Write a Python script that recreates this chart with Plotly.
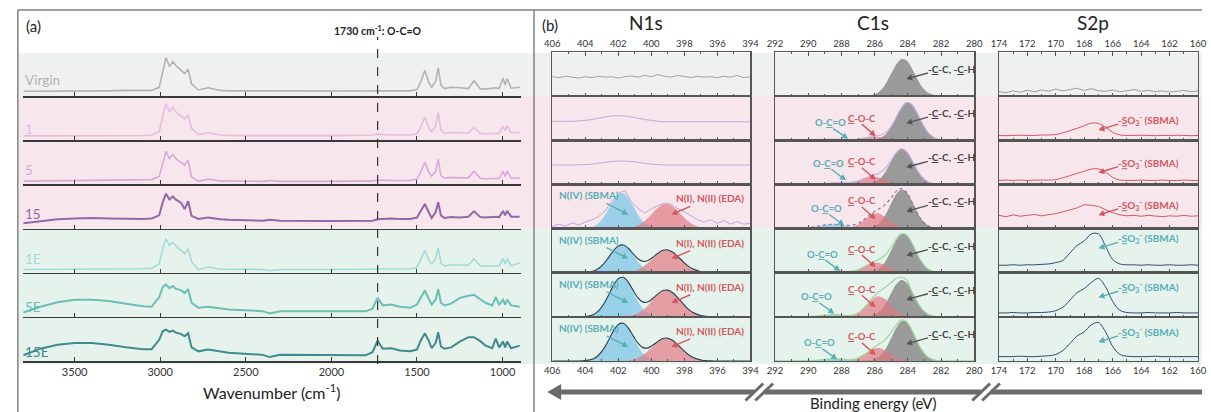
import math
import plotly.graph_objects as go

W, H = 1211, 412

# ---------------- data: FTIR (panel a) ----------------
SAMPLES = ["Virgin", "1", "5", "15", "1E", "5E", "15E"]
FTIR_TICKS = [3500, 3000, 2500, 2000, 1500, 1000]
MARK_WN = 1730

WN = [3800, 3700, 3600, 3500, 3400, 3300, 3200, 3100, 3050, 3006,
      2985, 2966, 2946, 2927, 2910, 2892, 2877, 2857, 2837, 2817,
      2777, 2720, 2650, 2600, 2400, 2360, 2300, 2000, 1800, 1760,
      1730, 1700, 1650, 1600, 1540, 1500, 1480, 1454, 1430, 1414,
      1390, 1376, 1360, 1340, 1300, 1250, 1200, 1167, 1130, 1100,
      1060, 1040, 1020, 997, 985, 973, 950, 900]

FTIR_VIRGIN = [0.11, 0.11, 0.115, 0.115, 0.12, 0.12, 0.13, 0.125, 0.13, 0.2,
               0.55, 0.875, 0.67, 0.78, 0.7, 0.625, 0.585, 0.51, 0.61, 0.28,
               0.14, 0.19, 0.13, 0.12, 0.115, 0.12, 0.12, 0.115, 0.115, 0.115,
               0.12, 0.125, 0.12, 0.12, 0.12, 0.15, 0.3, 0.585, 0.3, 0.2,
               0.35, 0.64, 0.25, 0.17, 0.2, 0.19, 0.17, 0.35, 0.17, 0.16,
               0.18, 0.19, 0.17, 0.41, 0.25, 0.4, 0.18, 0.2]
FTIR_1 = [0.1, 0.1, 0.105, 0.105, 0.11, 0.11, 0.11, 0.11, 0.12, 0.2,
          0.55, 0.83, 0.64, 0.74, 0.66, 0.58, 0.55, 0.48, 0.58, 0.27,
          0.13, 0.17, 0.12, 0.11, 0.105, 0.11, 0.105, 0.105, 0.11, 0.12,
          0.14, 0.13, 0.12, 0.12, 0.12, 0.15, 0.28, 0.52, 0.28, 0.19,
          0.33, 0.62, 0.23, 0.16, 0.18, 0.17, 0.16, 0.29, 0.16, 0.15,
          0.16, 0.17, 0.16, 0.32, 0.22, 0.33, 0.17, 0.18]
FTIR_5 = [0.075, 0.08, 0.085, 0.09, 0.09, 0.095, 0.1, 0.1, 0.11, 0.18,
          0.5, 0.75, 0.59, 0.68, 0.6, 0.53, 0.5, 0.44, 0.55, 0.17,
          0.07, 0.12, 0.08, 0.075, 0.07, 0.09, 0.07, 0.07, 0.075, 0.08,
          0.1, 0.09, 0.09, 0.09, 0.09, 0.12, 0.26, 0.51, 0.27, 0.19,
          0.3, 0.57, 0.2, 0.14, 0.16, 0.15, 0.15, 0.3, 0.14, 0.13,
          0.14, 0.15, 0.14, 0.3, 0.18, 0.3, 0.14, 0.15]
FTIR_15 = [0.12, 0.17, 0.21, 0.23, 0.24, 0.23, 0.22, 0.22, 0.23, 0.3,
           0.6, 0.79, 0.66, 0.73, 0.66, 0.62, 0.58, 0.44, 0.62, 0.29,
           0.22, 0.25, 0.21, 0.2, 0.18, 0.2, 0.18, 0.17, 0.17, 0.18,
           0.21, 0.22, 0.23, 0.22, 0.22, 0.25, 0.38, 0.56, 0.36, 0.24,
           0.38, 0.6, 0.3, 0.24, 0.26, 0.25, 0.27, 0.39, 0.26, 0.25,
           0.26, 0.27, 0.26, 0.4, 0.3, 0.4, 0.27, 0.27]
FTIR_1E = [0.075, 0.075, 0.08, 0.08, 0.08, 0.085, 0.085, 0.09, 0.1, 0.2,
           0.55, 0.77, 0.62, 0.69, 0.62, 0.54, 0.51, 0.43, 0.54, 0.25,
           0.07, 0.13, 0.08, 0.08, 0.075, 0.05, 0.075, 0.075, 0.075, 0.08,
           0.09, 0.085, 0.085, 0.085, 0.09, 0.12, 0.28, 0.51, 0.28, 0.2,
           0.32, 0.57, 0.22, 0.16, 0.18, 0.17, 0.17, 0.32, 0.16, 0.15,
           0.16, 0.17, 0.16, 0.32, 0.2, 0.32, 0.16, 0.22]
FTIR_5E = [0.1, 0.23, 0.33, 0.39, 0.39, 0.36, 0.3, 0.24, 0.23, 0.45,
           0.68, 0.73, 0.65, 0.7, 0.64, 0.61, 0.6, 0.54, 0.63, 0.32,
           0.21, 0.23, 0.19, 0.17, 0.13, 0.08, 0.13, 0.13, 0.126, 0.185,
           0.43, 0.26, 0.28, 0.23, 0.21, 0.28, 0.42, 0.6, 0.4, 0.28,
           0.4, 0.63, 0.32, 0.26, 0.3, 0.43, 0.48, 0.5, 0.4, 0.32,
           0.26, 0.45, 0.28, 0.39, 0.28, 0.39, 0.26, 0.23]
FTIR_15E = [0.13, 0.28, 0.37, 0.41, 0.41, 0.37, 0.31, 0.27, 0.27, 0.48,
            0.68, 0.71, 0.66, 0.69, 0.65, 0.63, 0.61, 0.56, 0.63, 0.31,
            0.22, 0.26, 0.21, 0.19, 0.14, 0.09, 0.14, 0.13, 0.13, 0.2,
            0.46, 0.28, 0.29, 0.24, 0.22, 0.26, 0.45, 0.63, 0.45, 0.29,
            0.42, 0.65, 0.33, 0.28, 0.31, 0.44, 0.54, 0.54, 0.45, 0.35,
            0.29, 0.51, 0.31, 0.44, 0.31, 0.44, 0.29, 0.35]
FTIR_SERIES = [FTIR_VIRGIN, FTIR_1, FTIR_5, FTIR_15, FTIR_1E, FTIR_5E, FTIR_15E]

# ---------------- data: XPS N1s ----------------
N1S_E = [406, 405, 404.5, 404, 403.5, 403.2, 402.9, 402.6, 402.3, 402.0,
         401.7, 401.4, 401.1, 400.8, 400.5, 400.2, 399.9, 399.6, 399.3, 399.0,
         398.7, 398.4, 398.1, 397.8, 397.5, 397.0, 396.5, 396.0, 395.0, 394.0]
N1S_E_RAW = [406.0, 405.6, 405.2, 404.8, 404.4, 404.0, 403.6, 403.2, 402.8, 402.4,
             402.0, 401.6, 401.2, 400.8, 400.4, 400.0, 399.6, 399.2, 398.8, 398.4,
             398.0, 397.6, 397.2, 396.8, 396.4, 396.0, 395.6, 395.2, 394.8, 394.4, 394.0]
N1S_RAW_VIRGIN = [0.44, 0.42, 0.45, 0.43, 0.41, 0.44, 0.42, 0.45, 0.43, 0.44,
                  0.41, 0.44, 0.46, 0.43, 0.47, 0.44, 0.49, 0.45, 0.43, 0.47,
                  0.44, 0.42, 0.45, 0.43, 0.44, 0.42, 0.45, 0.43, 0.47, 0.42, 0.44]
N1S_RAW_1 = [0.43, 0.43, 0.43, 0.43, 0.44, 0.45, 0.47, 0.5, 0.53, 0.55,
             0.555, 0.55, 0.53, 0.5, 0.47, 0.45, 0.43, 0.42, 0.42, 0.42,
             0.42, 0.42, 0.42, 0.42, 0.42, 0.42, 0.42, 0.42, 0.42, 0.42, 0.42]
N1S_RAW_5 = [0.44, 0.44, 0.44, 0.44, 0.445, 0.45, 0.46, 0.48, 0.5, 0.52,
             0.53, 0.53, 0.52, 0.5, 0.48, 0.46, 0.45, 0.44, 0.44, 0.44,
             0.44, 0.44, 0.44, 0.44, 0.44, 0.44, 0.44, 0.44, 0.44, 0.44, 0.44]
N1S_RAW_15 = [0.05, 0.1, 0.06, 0.13, 0.08, 0.15, 0.2, 0.27, 0.4, 0.62,
              0.8, 0.86, 0.6, 0.45, 0.35, 0.45, 0.52, 0.58, 0.55, 0.45,
              0.38, 0.28, 0.2, 0.15, 0.2, 0.12, 0.18, 0.1, 0.16, 0.1, 0.12]

N1S_SBMA_15 = [0, 0, 0.001, 0.008, 0.05, 0.123, 0.254, 0.438, 0.637, 0.779,
               0.802, 0.695, 0.506, 0.31, 0.16, 0.07, 0.027, 0.008, 0.002, 0.001,
               0, 0, 0, 0, 0, 0, 0, 0, 0, 0]
N1S_EDA_15 = [0, 0, 0, 0, 0, 0, 0, 0, 0.001, 0.002,
              0.005, 0.015, 0.035, 0.076, 0.144, 0.242, 0.36, 0.471, 0.545, 0.556,
              0.501, 0.399, 0.28, 0.174, 0.095, 0.026, 0.005, 0.001, 0, 0]
N1S_SBMA_1E = [0, 0, 0.001, 0.006, 0.039, 0.096, 0.197, 0.341, 0.496, 0.606,
               0.624, 0.541, 0.394, 0.241, 0.125, 0.054, 0.021, 0.006, 0.002, 0.001,
               0, 0, 0, 0, 0, 0, 0, 0, 0, 0]
N1S_EDA_1E = [0, 0, 0, 0, 0, 0, 0, 0, 0.001, 0.002,
              0.005, 0.014, 0.033, 0.07, 0.134, 0.225, 0.334, 0.437, 0.506, 0.516,
              0.465, 0.37, 0.26, 0.161, 0.088, 0.024, 0.005, 0.001, 0, 0]
N1S_ENV_1E = [0, 0, 0.001, 0.006, 0.039, 0.096, 0.197, 0.341, 0.497, 0.608,
              0.629, 0.555, 0.427, 0.311, 0.259, 0.279, 0.355, 0.443, 0.508, 0.517,
              0.465, 0.37, 0.26, 0.161, 0.088, 0.024, 0.005, 0.001, 0, 0]
N1S_SBMA_5E = [0, 0, 0.001, 0.009, 0.056, 0.137, 0.282, 0.487, 0.708, 0.866,
               0.891, 0.772, 0.563, 0.345, 0.178, 0.077, 0.03, 0.009, 0.003, 0.001,
               0, 0, 0, 0, 0, 0, 0, 0, 0, 0]
N1S_EDA_5E = [0, 0, 0, 0, 0, 0, 0, 0, 0.001, 0.002,
              0.005, 0.016, 0.038, 0.082, 0.157, 0.264, 0.392, 0.513, 0.594, 0.606,
              0.546, 0.434, 0.305, 0.189, 0.103, 0.029, 0.005, 0.001, 0, 0]
N1S_ENV_5E = [0, 0, 0.001, 0.009, 0.056, 0.137, 0.282, 0.487, 0.709, 0.868,
              0.896, 0.788, 0.601, 0.427, 0.335, 0.341, 0.422, 0.522, 0.597, 0.607,
              0.546, 0.434, 0.305, 0.189, 0.103, 0.029, 0.005, 0.001, 0, 0]
N1S_SBMA_15E = [0, 0, 0.001, 0.009, 0.053, 0.131, 0.269, 0.465, 0.677, 0.827,
                0.851, 0.738, 0.538, 0.329, 0.17, 0.074, 0.028, 0.009, 0.003, 0.001,
                0, 0, 0, 0, 0, 0, 0, 0, 0, 0]
N1S_EDA_15E = [0, 0, 0, 0, 0, 0, 0, 0, 0.001, 0.002,
               0.005, 0.014, 0.033, 0.07, 0.134, 0.225, 0.334, 0.437, 0.506, 0.516,
               0.465, 0.37, 0.26, 0.161, 0.088, 0.024, 0.005, 0.001, 0, 0]
N1S_ENV_15E = [0, 0, 0.001, 0.009, 0.053, 0.131, 0.269, 0.465, 0.678, 0.829,
               0.856, 0.752, 0.571, 0.399, 0.304, 0.299, 0.362, 0.446, 0.509, 0.517,
               0.465, 0.37, 0.26, 0.161, 0.088, 0.024, 0.005, 0.001, 0, 0]

# ---------------- data: XPS C1s ----------------
C1S_E = [292, 291, 290, 289.5, 289, 288.5, 288, 287.5, 287, 286.6,
         286.2, 285.8, 285.4, 285.0, 284.7, 284.4, 284.1, 283.8, 283.5, 283.2,
         282.8, 282.4, 282, 281, 280]
C1S_CC = [
    [0, 0, 0, 0, 0, 0, 0, 0, 0, 0.003, 0.017, 0.073, 0.227, 0.494, 0.706, 0.831, 0.805, 0.641, 0.42, 0.227, 0.073, 0.017, 0.003, 0, 0],
    [0, 0, 0, 0, 0, 0, 0, 0, 0, 0.001, 0.004, 0.026, 0.103, 0.292, 0.506, 0.723, 0.851, 0.824, 0.656, 0.43, 0.181, 0.054, 0.011, 0, 0],
    [0, 0, 0, 0, 0, 0, 0, 0, 0, 0.003, 0.02, 0.08, 0.24, 0.506, 0.7, 0.8, 0.75, 0.576, 0.366, 0.19, 0.06, 0.013, 0.002, 0, 0],
    [0, 0, 0, 0, 0, 0, 0, 0, 0, 0.004, 0.022, 0.088, 0.264, 0.557, 0.77, 0.877, 0.823, 0.634, 0.402, 0.21, 0.065, 0.014, 0.003, 0, 0],
    [0, 0, 0, 0, 0, 0, 0, 0, 0, 0.003, 0.015, 0.068, 0.216, 0.487, 0.714, 0.862, 0.856, 0.7, 0.471, 0.26, 0.087, 0.021, 0.004, 0, 0],
    [0, 0, 0, 0, 0, 0, 0, 0, 0, 0.003, 0.021, 0.083, 0.249, 0.525, 0.727, 0.828, 0.776, 0.598, 0.379, 0.198, 0.061, 0.013, 0.002, 0, 0],
    [0, 0, 0, 0, 0, 0, 0, 0, 0, 0.003, 0.015, 0.07, 0.223, 0.503, 0.738, 0.891, 0.885, 0.723, 0.487, 0.269, 0.09, 0.022, 0.004, 0, 0],
]
C1S_COC = [
    None,
    [0, 0, 0, 0, 0, 0, 0.001, 0.007, 0.027, 0.054, 0.077, 0.077, 0.054, 0.027, 0.013, 0.005, 0.002, 0, 0, 0, 0, 0, 0, 0, 0],
    [0, 0, 0, 0, 0, 0, 0.004, 0.022, 0.075, 0.137, 0.178, 0.163, 0.106, 0.049, 0.022, 0.008, 0.002, 0, 0, 0, 0, 0, 0, 0, 0],
    [0, 0, 0, 0, 0, 0, 0.003, 0.022, 0.095, 0.206, 0.317, 0.346, 0.267, 0.146, 0.074, 0.03, 0.011, 0.003, 0.001, 0, 0, 0, 0, 0, 0],
    [0, 0, 0, 0, 0, 0, 0.002, 0.014, 0.062, 0.135, 0.209, 0.227, 0.175, 0.096, 0.048, 0.02, 0.007, 0.002, 0, 0, 0, 0, 0, 0, 0],
    [0, 0, 0, 0, 0, 0, 0.002, 0.017, 0.086, 0.215, 0.377, 0.469, 0.412, 0.256, 0.142, 0.065, 0.024, 0.008, 0.002, 0, 0, 0, 0, 0, 0],
    [0, 0, 0, 0, 0, 0, 0.002, 0.013, 0.063, 0.15, 0.252, 0.3, 0.252, 0.15, 0.081, 0.036, 0.013, 0.004, 0.001, 0, 0, 0, 0, 0, 0],
]
C1S_OCO = [
    None,
    [0, 0, 0.004, 0.012, 0.025, 0.03, 0.02, 0.008, 0.002, 0, 0, 0, 0, 0, 0, 0, 0, 0, 0, 0, 0, 0, 0, 0, 0],
    [0, 0, 0.002, 0.008, 0.024, 0.038, 0.036, 0.02, 0.006, 0.002, 0, 0, 0, 0, 0, 0, 0, 0, 0, 0, 0, 0, 0, 0, 0],
    [0, 0.001, 0.021, 0.05, 0.084, 0.1, 0.084, 0.05, 0.021, 0.008, 0.003, 0, 0, 0, 0, 0, 0, 0, 0, 0, 0, 0, 0, 0, 0],
    [0, 0, 0.001, 0.005, 0.015, 0.027, 0.029, 0.017, 0.006, 0.002, 0, 0, 0, 0, 0, 0, 0, 0, 0, 0, 0, 0, 0, 0, 0],
    [0, 0, 0.004, 0.017, 0.04, 0.05, 0.04, 0.017, 0.004, 0.001, 0, 0, 0, 0, 0, 0, 0, 0, 0, 0, 0, 0, 0, 0, 0],
    [0, 0, 0.004, 0.017, 0.04, 0.05, 0.04, 0.017, 0.004, 0.001, 0, 0, 0, 0, 0, 0, 0, 0, 0, 0, 0, 0, 0, 0, 0],
]
C1S_ENV = [
    None,
    [0, 0, 0.004, 0.012, 0.025, 0.03, 0.021, 0.015, 0.029, 0.055, 0.081, 0.103, 0.157, 0.319, 0.519, 0.728, 0.853, 0.824, 0.656, 0.43, 0.181, 0.054, 0.011, 0, 0],
    [0, 0, 0.002, 0.008, 0.024, 0.038, 0.04, 0.042, 0.081, 0.142, 0.198, 0.243, 0.346, 0.555, 0.722, 0.808, 0.752, 0.576, 0.366, 0.19, 0.06, 0.013, 0.002, 0, 0],
    [0, 0.001, 0.021, 0.05, 0.084, 0.1, 0.087, 0.072, 0.116, 0.218, 0.342, 0.434, 0.531, 0.703, 0.844, 0.907, 0.834, 0.637, 0.403, 0.21, 0.065, 0.014, 0.003, 0, 0],
    [0, 0, 0.001, 0.005, 0.015, 0.027, 0.031, 0.031, 0.068, 0.14, 0.224, 0.295, 0.391, 0.583, 0.762, 0.882, 0.863, 0.702, 0.471, 0.26, 0.087, 0.021, 0.004, 0, 0],
    [0, 0, 0.004, 0.017, 0.04, 0.05, 0.042, 0.034, 0.09, 0.219, 0.398, 0.552, 0.661, 0.781, 0.869, 0.892, 0.852, 0.606, 0.381, 0.198, 0.061, 0.013, 0.002, 0, 0],
    [0, 0, 0.004, 0.017, 0.04, 0.05, 0.042, 0.03, 0.067, 0.154, 0.267, 0.37, 0.475, 0.653, 0.819, 0.927, 0.898, 0.727, 0.488, 0.269, 0.09, 0.022, 0.004, 0, 0],
]

# ---------------- data: XPS S2p ----------------
S2P_E = [174, 173.5, 173, 172.5, 172, 171.5, 171, 170.5, 170, 169.5,
         169, 168.5, 168, 167.5, 167, 166.5, 166, 165.5, 165, 164.5,
         164, 163.5, 163, 162.5, 162, 161.5, 161, 160.5, 160]
S2P = [
    [0.1, 0.08, 0.12, 0.09, 0.13, 0.1, 0.14, 0.11, 0.16, 0.12, 0.15, 0.18, 0.13, 0.17, 0.12, 0.11, 0.14, 0.1, 0.12, 0.15, 0.11, 0.13, 0.1, 0.12, 0.09, 0.11, 0.13, 0.1, 0.12],
    [0.11, 0.105, 0.11, 0.115, 0.11, 0.11, 0.12, 0.12, 0.13, 0.17, 0.22, 0.27, 0.33, 0.39, 0.38, 0.3, 0.18, 0.12, 0.11, 0.11, 0.115, 0.11, 0.105, 0.11, 0.11, 0.115, 0.11, 0.105, 0.11],
    [0.09, 0.1, 0.09, 0.1, 0.09, 0.1, 0.1, 0.1, 0.11, 0.15, 0.2, 0.25, 0.3, 0.35, 0.35, 0.28, 0.16, 0.1, 0.09, 0.09, 0.1, 0.09, 0.09, 0.1, 0.09, 0.09, 0.1, 0.09, 0.09],
    [0.3, 0.27, 0.31, 0.28, 0.3, 0.32, 0.29, 0.31, 0.34, 0.38, 0.42, 0.47, 0.54, 0.53, 0.5, 0.43, 0.36, 0.31, 0.29, 0.3, 0.28, 0.3, 0.29, 0.27, 0.29, 0.28, 0.3, 0.28, 0.29],
    [0.17, 0.17, 0.18, 0.17, 0.18, 0.18, 0.19, 0.2, 0.23, 0.28, 0.45, 0.62, 0.72, 0.88, 0.88, 0.6, 0.3, 0.2, 0.18, 0.18, 0.17, 0.18, 0.17, 0.17, 0.18, 0.17, 0.17, 0.18, 0.17],
    [0.09, 0.09, 0.1, 0.09, 0.09, 0.1, 0.1, 0.11, 0.14, 0.22, 0.38, 0.55, 0.64, 0.78, 0.87, 0.68, 0.35, 0.15, 0.1, 0.09, 0.09, 0.1, 0.09, 0.09, 0.09, 0.1, 0.09, 0.09, 0.09],
    [0.1, 0.1, 0.1, 0.11, 0.1, 0.1, 0.11, 0.12, 0.15, 0.24, 0.4, 0.57, 0.66, 0.82, 0.87, 0.66, 0.33, 0.15, 0.11, 0.1, 0.1, 0.1, 0.11, 0.1, 0.1, 0.1, 0.1, 0.1, 0.1],
]

N1S_RAW = [N1S_RAW_VIRGIN, N1S_RAW_1, N1S_RAW_5, N1S_RAW_15, None, None, None]
N1S_SBMA = [None, None, None, N1S_SBMA_15, N1S_SBMA_1E, N1S_SBMA_5E, N1S_SBMA_15E]
N1S_EDA = [None, None, None, N1S_EDA_15, N1S_EDA_1E, N1S_EDA_5E, N1S_EDA_15E]
N1S_ENV = [None, None, None, None, N1S_ENV_1E, N1S_ENV_5E, N1S_ENV_15E]

# ---------------- styles ----------------
FTIR_COLORS = ["#b3b3b3", "#e6bde1", "#daaad7", "#9467a8", "#a3dbd8", "#6bbeb4", "#3f8a8c"]
FTIR_WIDTHS = [1.6, 1.6, 1.6, 2.0, 1.6, 2.0, 2.0]
LABEL_DY = [16, 11.5, 14.6, 14.8, 14.2, 10, 9.5]
TEAL = "#58aeb4"
RED = "#d4575e"
DARK = "#444444"
FONT = "Lato, 'Open Sans', sans-serif"

def px(x):
    return x / W

def py(y):
    return 1 - y / H

ROW_TOP, ROW_H = 52.0, 44.15

def row_top(i):
    return ROW_TOP + i * ROW_H

fig = go.Figure()
lay = dict(width=W, height=H, margin=dict(l=0, r=0, t=0, b=0),
           paper_bgcolor="white", plot_bgcolor="rgba(0,0,0,0)", showlegend=False,
           font=dict(family=FONT, color="#333"))
annotations = []
shapes = []
axis_count = [0]

def new_axes(xdom, ydom, xopts, yopts):
    axis_count[0] += 1
    n = axis_count[0]
    k = "" if n == 1 else str(n)
    lay["xaxis" + k] = dict(domain=xdom, anchor="y" + k, **xopts)
    lay["yaxis" + k] = dict(domain=ydom, anchor="x" + k, **yopts)
    return "x" + k, "y" + k

def text(t, x, y, size, color, xanchor="center", bold=False):
    annotations.append(dict(text=t, x=px(x), y=py(y), xref="paper", yref="paper",
                            xanchor=xanchor, yanchor="middle", showarrow=False,
                            font=dict(size=size, color=color, family=FONT,
                                      weight=("bold" if bold else "normal"))))

def pline(x0, y0, x1, y1, color, width, dash="solid", layer="above"):
    shapes.append(dict(type="line", xref="paper", yref="paper", x0=px(x0), y0=py(y0),
                       x1=px(x1), y1=py(y1), line=dict(color=color, width=width, dash=dash),
                       layer=layer))

def arrow(x0, y0, x1, y1, color, hl=6.0, hw=3.2):
    dx, dy = x1 - x0, y1 - y0
    L = math.hypot(dx, dy)
    ux, uy = dx / L, dy / L
    bx, by = x1 - ux * hl, y1 - uy * hl
    nx, ny = -uy, ux
    pline(x0, y0, bx + ux, by + uy, color, 1.4)
    shapes.append(dict(type="path", xref="paper", yref="paper",
                       path=(f"M {px(x1)},{py(y1)} L {px(bx + nx * hw)},{py(by + ny * hw)} "
                             f"L {px(bx - nx * hw)},{py(by - ny * hw)} Z"),
                       fillcolor=color, line=dict(width=0), layer="above"))

# background bands
for (y0, y1, col) in [(53, row_top(1), "#eef1ef"), (row_top(1), row_top(4), "#f7e6ec"),
                      (row_top(4), 364, "#e6f3ed")]:
    shapes.append(dict(type="rect", xref="paper", yref="paper", x0=px(11), x1=1.0,
                       y0=py(y1), y1=py(y0), fillcolor=col, line=dict(width=0), layer="below"))

# ---------------- panel (a) ----------------
first_x = None
for i, name in enumerate(SAMPLES):
    top = row_top(i)
    xo = dict(range=[3800, 890], showline=True, linecolor="#3a3a3a", linewidth=1.5,
              ticks="inside", ticklen=4, tickwidth=1, tickcolor="#3a3a3a",
              tickvals=FTIR_TICKS, showticklabels=(i == len(SAMPLES) - 1),
              tickfont=dict(size=11, color="#333", family=FONT),
              showgrid=False, zeroline=False)
    yo = dict(range=[0, 1], visible=False)
    xa, ya = new_axes([px(15.5), px(520.7)], [py(top + ROW_H), py(top)], xo, yo)
    if first_x is None:
        first_x = xa
    fig.add_trace(go.Scatter(x=WN, y=FTIR_SERIES[i], xaxis=xa, yaxis=ya, mode="lines",
                             line=dict(color=FTIR_COLORS[i], width=FTIR_WIDTHS[i]),
                             hoverinfo="skip"))
    text(name, 15.5, top + ROW_H - LABEL_DY[i], 13.5, FTIR_COLORS[i], xanchor="left")

shapes.append(dict(type="line", xref=first_x, yref="paper", x0=MARK_WN, x1=MARK_WN,
                   y0=py(364), y1=py(37), line=dict(color="#333", width=1.2, dash="dash"),
                   layer="above"))
annotations.append(dict(text="1730 cm<sup>-1</sup>: O-C=O", x=MARK_WN, xref=first_x,
                        y=py(31), yref="paper", xanchor="center", yanchor="middle",
                        showarrow=False, font=dict(size=10.5, color="#222", family=FONT, weight="bold")))
text("(a)", 26, 26, 15, "#222")
text("Wavenumber (cm<sup>-1</sup>)", 267, 391, 16, "#222")

# ---------------- panel (b) ----------------
COLS = [
    dict(dom=(552, 753), rng=[406, 394], t0=394),
    dict(dom=(778, 980), rng=[292, 280], t0=280),
    dict(dom=(1005, 1207), rng=[174, 160], t0=160),
]
BOX = "#555555"
BLUE_FILL = "rgba(135,203,230,0.82)"
PINK_FILL = "rgba(224,118,128,0.68)"
GRAY_FILL = "rgba(150,150,150,0.95)"
C1S_ENV_STYLE = [None,
                 dict(color="#c2b0e0", width=1.1),
                 dict(color="#c2b0e0", width=1.1),
                 dict(color="#7f70a6", width=1.1, dash="dot"),
                 dict(color="#9fd59b", width=1.2),
                 dict(color="#9fd59b", width=1.2),
                 dict(color="#9fd59b", width=1.2)]
N1S_RAW_COLORS = ["#9a9a9a", "#b9a3d8", "#b9a3d8", "#b4a0d8"]
S2P_COLORS = ["#9a9a9a", "#d9565e", "#d9565e", "#d9565e", "#2d4a74", "#2d4a74", "#2d4a74"]

def spline_fill(xa, ya, xs, ys, fill, lw=0.0, lc="rgba(0,0,0,0)"):
    fig.add_trace(go.Scatter(x=xs, y=ys, xaxis=xa, yaxis=ya, mode="lines",
                             line=dict(color=lc, width=lw, shape="spline", smoothing=0.8),
                             fill="tozeroy", fillcolor=fill, hoverinfo="skip"))

def plain_line(xa, ya, xs, ys, style, shape="linear"):
    st = dict(style)
    st["shape"] = shape
    fig.add_trace(go.Scatter(x=xs, y=ys, xaxis=xa, yaxis=ya, mode="lines",
                             line=st, hoverinfo="skip"))

for i in range(len(SAMPLES)):
    top = row_top(i)
    for c, col in enumerate(COLS):
        xo = dict(range=col["rng"], showline=True, mirror=("ticks" if i == 0 else True),
                  linecolor=BOX, linewidth=1.3, ticks="inside", ticklen=3.5, tickwidth=1,
                  tickcolor=BOX, tick0=col["t0"], dtick=2,
                  minor=dict(ticks="inside", ticklen=2, tick0=col["t0"], dtick=1, tickcolor=BOX),
                  side=("top" if i == 0 else "bottom"),
                  showticklabels=(i == 0 or i == len(SAMPLES) - 1),
                  tickfont=dict(size=9.5, color="#333", family=FONT),
                  showgrid=False, zeroline=False)
        yo = dict(range=[0, 1], showline=True, mirror=True, linecolor=BOX, linewidth=1.3,
                  ticks="", showticklabels=False, showgrid=False, zeroline=False)
        xa, ya = new_axes([px(col["dom"][0]), px(col["dom"][1])],
                          [py(top + ROW_H), py(top)], xo, yo)
        if c == 0:
            if N1S_SBMA[i] is not None:
                spline_fill(xa, ya, N1S_E, N1S_SBMA[i], BLUE_FILL)
                spline_fill(xa, ya, N1S_E, N1S_EDA[i], PINK_FILL)
            if N1S_RAW[i] is not None:
                shape = "linear" if i in (0, 3) else "spline"
                plain_line(xa, ya, N1S_E_RAW, N1S_RAW[i],
                           dict(color=N1S_RAW_COLORS[i], width=0.9), shape)
            if N1S_ENV[i] is not None:
                plain_line(xa, ya, N1S_E, N1S_ENV[i], dict(color="#2c3d52", width=1.1), "spline")
        elif c == 1:
            spline_fill(xa, ya, C1S_E, C1S_CC[i], GRAY_FILL, 0.6, "#8a8a8a")
            if C1S_COC[i] is not None:
                spline_fill(xa, ya, C1S_E, C1S_COC[i], PINK_FILL)
                spline_fill(xa, ya, C1S_E, C1S_OCO[i], BLUE_FILL)
                plain_line(xa, ya, C1S_E, C1S_ENV[i], C1S_ENV_STYLE[i], "spline")
        else:
            shape = "linear" if i in (0, 3) else "spline"
            plain_line(xa, ya, S2P_E, S2P[i], dict(color=S2P_COLORS[i], width=1.0), shape)

# labels panel (b)
text("(b)", 550, 25, 15, "#222")
text("N1s", 647, 23, 19, "#222")
text("C1s", 877, 23, 19, "#222")
text("S2p", 1100, 23, 19, "#222")

for i in range(3, 7):
    top = row_top(i)
    text("N(IV) (SBMA)", 557, top + 11, 10, TEAL, xanchor="left", bold=True)
    arrow(607, top + 19, 629, top + 30, TEAL)
    text("N(I), N(II) (EDA)", 712, top + 14, 10, RED, bold=True)
    arrow(692, top + 22, 673, top + 30, RED)

COC_DY = [None, 22, 21.5, 16.5, 20.5, 16.5, 20]
OCO_X = [None, 834, 832, 830, 826, 820, 823]
OCO_DY = [None, 26.5, 23, 24, 25.5, 24, 26]
for i in range(7):
    top = row_top(i)
    text("-<u>C</u>-C, -<u>C</u>-H", 957, top + 17, 10, DARK, bold=True)
    arrow(933, top + 21, 911, top + 27, "#555")
    if i >= 1:
        ly = top + COC_DY[i]
        text("<u>C</u>-O-C", 866, ly, 9.5, RED, bold=True)
        arrow(866, ly + 6, 880, min(ly + 18, top + 41), RED)
        lx, ly2 = OCO_X[i], top + OCO_DY[i]
        text("O-<u>C</u>=O", lx, ly2, 9.5, TEAL, bold=True)
        arrow(lx + 3, ly2 + 6, lx + 18, min(ly2 + 17, top + 42.5), TEAL)

S2P_DY = [None, 23.9, 22.4, 20.5, 9.7, 14.5, 15]
for i in range(1, 7):
    top = row_top(i)
    colr = RED if i <= 3 else TEAL
    ly = top + S2P_DY[i]
    text("-<u>S</u>O<sub>3</sub><sup>-</sup> (SBMA)", 1157, ly, 10, colr, bold=True)
    arrow(1126, ly + 4, 1106, ly + 10, colr)

# binding energy arrow with axis breaks
ARW = "#6b6b6b"
AY = 392
pline(556, AY, 757, AY, ARW, 5)
pline(767, AY, 987, AY, ARW, 5)
pline(997, AY, W, AY, ARW, 5)
shapes.append(dict(type="path", xref="paper", yref="paper",
                   path=f"M {px(547)},{py(AY)} L {px(561)},{py(AY - 8)} L {px(561)},{py(AY + 8)} Z",
                   fillcolor=ARW, line=dict(width=0), layer="above"))
for sx in (757, 767, 987, 997):
    pline(sx - 9, AY + 8.5, sx + 9, AY - 8.5, ARW, 3)
text("Binding energy (eV)", 878, 403, 15, "#222")

# frame lines
pline(10, 10, W, 10, "#808080", 1.5)
pline(10, 10, 10, H, "#808080", 1.5)
pline(533.5, 10, 533.5, H, "#808080", 1.5)

lay["annotations"] = annotations
lay["shapes"] = shapes
fig.update_layout(**lay)
fig.write_html("out.html", config={"displayModeBar": False, "staticPlot": True},
               post_script="document.body.style.margin='0';document.body.style.overflow='hidden';")
